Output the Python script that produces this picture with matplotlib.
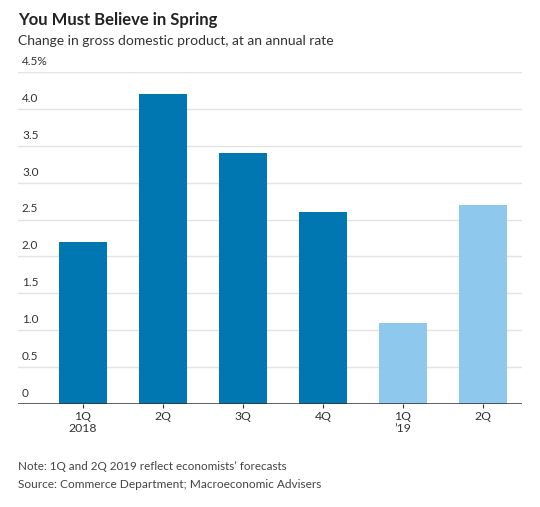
import matplotlib.pyplot as plt
import matplotlib.transforms as mtransforms

quarters = ['1Q\n2018', '2Q', '3Q', '4Q', '1Q\n\u201919', '2Q']
gdp = [2.2, 4.2, 3.4, 2.6, 1.1, 2.7]
forecast = [False, False, False, False, True, True]
yticks = [0, 0.5, 1.0, 1.5, 2.0, 2.5, 3.0, 3.5, 4.0, 4.5]
ylabels = ['0', '0.5', '1.0', '1.5', '2.0', '2.5', '3.0', '3.5', '4.0', '4.5%']

dark = '#0077b0'
light = '#8ec8ec'

plt.rcParams['font.family'] = ['Lato', 'DejaVu Sans']

fig = plt.figure(figsize=(5.4, 5.07), dpi=100)
ax = fig.add_axes([18/540, 1-404/507, 504/540, 332/507])

x = list(range(len(gdp)))
colors = [light if f else dark for f in forecast]
ax.bar(x, gdp, width=0.6, color=colors, zorder=3)

ax.set_xlim(-0.8125, 5.4875)
ax.set_ylim(0, 4.5)

for t in yticks[1:]:
    ax.axhline(t, color='#e2e2e2', lw=1, zorder=1)
ax.axhline(0, color='#333333', lw=1.1, zorder=4)

trans = mtransforms.blended_transform_factory(ax.transAxes, ax.transData)
for t, lab in zip(yticks, ylabels):
    ax.text(4/504, t + 0.07, lab, transform=trans, ha='left', va='bottom',
            fontsize=8.5, color='#333333')

ax.set_yticks([])
ax.set_xticks(x)
ax.set_xticklabels(quarters, fontsize=8.8, color='#333333', linespacing=1.15)
ax.tick_params(axis='x', length=3, width=0.8, color='#333333', pad=2)
for s in ax.spines.values():
    s.set_visible(False)

fig.text(18/540, 1-20/507, 'You Must Believe in Spring', fontsize=12,
         fontweight='bold', color='#222222', va='center')
fig.text(18/540, 1-41/507, 'Change in gross domestic product, at an annual rate',
         fontsize=10, color='#333333', va='center')
fig.text(18/540, 1-466/507, 'Note: 1Q and 2Q 2019 reflect economists\u2019 forecasts',
         fontsize=8.4, color='#444444', va='center')
fig.text(18/540, 1-484/507, 'Source: Commerce Department; Macroeconomic Advisers',
         fontsize=8.6, color='#444444', va='center')

fig.savefig('out.png', dpi=100)
